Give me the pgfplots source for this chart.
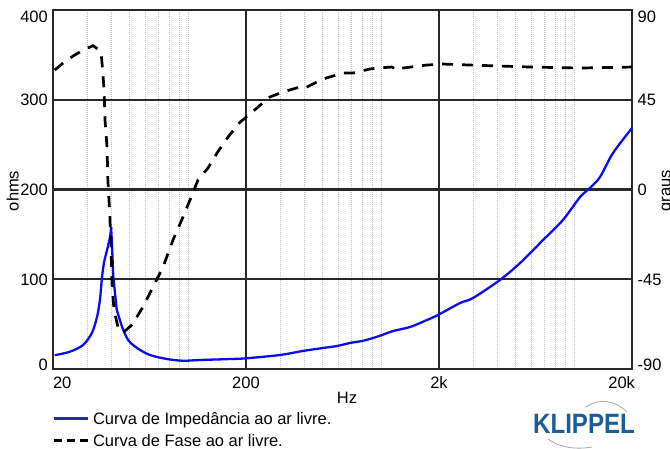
\documentclass[border=0pt]{standalone}
\usepackage{fontspec}
\setmainfont{Liberation Sans}
\usepackage{pgfplots}
\pgfplotsset{compat=1.18}
\definecolor{navyleg}{RGB}{40,40,150}
\definecolor{curveblue}{RGB}{10,10,245}
\definecolor{klippel}{RGB}{30,92,152}
\definecolor{gridmaj}{RGB}{40,40,40}
\newcommand{\yl}[2]{\raisebox{#1}[0pt][0pt]{#2}}
\pgfplotsset{
  solidleg/.style={legend image code/.code={\draw[##1] (0pt,6pt) -- (34pt,6pt);}},
  dashleg/.style={legend image code/.code={\draw[##1, dash pattern=on 8pt off 5pt] (0pt,6pt) -- (34pt,6pt);}},
}
\begin{document}
\fontsize{16.5}{19.8}\selectfont
\begin{tikzpicture}[font=\fontsize{16.5}{19.8}\selectfont]
\path[use as bounding box] (0pt,0pt) rectangle (670pt,448pt);
\begin{axis}[
  at={(53pt,79pt)}, anchor=south west,
  width=579pt, height=359pt, scale only axis,
  xmode=log, xmin=20, xmax=20000, ymin=0, ymax=400,
  xtick={20,200,2000,20000},
  xticklabels={\makebox[0pt][l]{20},200,2k,\makebox[0pt][r]{20k\kern-3pt}},
  minor xtick={30,40,50,60,70,80,90,100,300,400,500,600,700,800,900,1000,3000,4000,5000,6000,7000,8000,9000,10000},
  ytick={0,100,200,300,400},
  yticklabels={\yl{-1.35pt}{0},\yl{-5.85pt}{100},\yl{-5.85pt}{200},\yl{-5.85pt}{300},\yl{-12.85pt}{400}},
  major tick length=0pt, minor tick length=0pt,
  xmajorgrids, ymajorgrids, xminorgrids,
  grid style={line width=2.2pt, color=gridmaj},
  major grid style={line width=2.2pt, color=gridmaj},
  minor grid style={line width=0.8pt, color=gray!50, dash pattern=on 1pt off 1pt},
  axis line style={line width=2.6pt, color=gridmaj},
  xticklabel style={anchor=base, inner sep=0pt, yshift=-19pt},
  yticklabel style={anchor=east, inner sep=0pt, xshift=-5pt},
]
\addplot[curveblue, line width=2.3pt, forget plot, smooth, tension=0.5] coordinates {
(20.4,15.3)(24.5,19.3)(28.6,26.7)(31.8,40.1)(33.8,57.9)(35.0,76.9)(35.9,102.5)(36.8,119.2)(38.1,132.6)(39.5,147)(40.0,158)
};
\addplot[curveblue, line width=2.3pt, forget plot] coordinates {
(40.0,158)(40.4,140)(41.05,103)(42.8,65.7)(45.6,46.8)
};
\addplot[curveblue, line width=2.3pt, forget plot, smooth, tension=0.5] coordinates {
(45.6,46.8)(49.0,32.3)(54.5,23.4)(63.6,15.6)(78.0,11.1)(94.3,9.2)(115,10.0)(165,11.1)(200,11.9)(300,15.6)(394,20.1)(501,23.4)(592,25.6)(691,29.0)(798,31.2)(910,34.5)(1014,37.9)(1156,42.3)(1416,46.8)(1733,54.6)(1977,60.2)(2569,73.5)(3000,79.1)(4140,99.2)(5260,118.1)(6920,143.7)(8770,166)(10760,191.6)(12110,201.7)(13650,213.9)(15950,240.7)(20000,268.5)
};
\end{axis}
\begin{axis}[
  at={(53pt,79pt)}, anchor=south west,
  width=579pt, height=359pt, scale only axis,
  xmode=log, xmin=20, xmax=20000, ymin=-90, ymax=90,
  axis x line=none, axis y line*=right,
  y axis line style={draw=none},
  ytick={-90,-45,0,45,90},
  yticklabels={\yl{-1.35pt}{-90},\yl{-5.85pt}{-45},\yl{-5.85pt}{0},\yl{-5.85pt}{45},\yl{-12.85pt}{90}},
  major tick length=0pt,
  yticklabel style={anchor=west, inner sep=0pt, xshift=5.5pt},
  legend style={at={(axis description cs:0,0)}, anchor=north west, xshift=-1pt, yshift=-43pt,
    draw=none, fill=none, inner sep=0pt, row sep=6pt, column sep=4pt,
    nodes={inner sep=0pt, text height=12pt, text depth=4pt, anchor=base west}},
  legend cell align=left,
]
\addlegendimage{navyleg, line width=2.6pt, solidleg}
\addlegendentry{Curva de Impedância ao ar livre.}
\addlegendimage{black, line width=2.8pt, dashleg}
\addlegendentry{Curva de Fase ao ar livre.}
\addplot[black, line width=2.7pt, dash pattern=on 11pt off 9pt, forget plot] coordinates {
(20.4,59.9)(22.5,63.3)(25.4,66.9)(28.3,69.6)(32.2,72.1)(34.2,70.4)(35.5,68.4)(35.9,63.4)(36.8,49.9)(37.2,34.8)(38.1,21.3)(38.5,4.8)(39.0,-5.3)(39.3,-10.3)(40.0,-30.3)(40.4,-46.9)(41.4,-60.4)(43.4,-68.9)(46.1,-71.8)(51.3,-67.9)(58.5,-58.9)(65.9,-48.9)(74.3,-38.9)(83.7,-25.3)(94.3,-13.8)(102.5,-5.3)(112.8,4.8)(127.1,10.8)(141.5,18.3)(161.4,26.3)(186.2,33.8)(197.8,35.8)(228,40.9)(266,46.4)(311,48.9)(381,51.4)(404,50.9)(501,55.4)(637,58.4)(716,58.4)(877,60.4)(955,60.9)(1141,61.4)(1211,59.9)(1301,60.9)(1733,62.4)(2099,62.9)(2896,62.4)(5925,61.4)(10760,60.9)(20000,61.4)
};
\end{axis}
\node[rotate=90, anchor=base, inner sep=0pt] at (18.5pt,257pt) {ohms};
\node[rotate=90, anchor=base, inner sep=0pt] at (670.5pt,257pt) {graus};
\node[anchor=base, inner sep=0pt] at (347pt,45pt) {Hz};
\node[anchor=base west, inner sep=0pt, text=klippel, font=\fontsize{28}{28}\selectfont\bfseries] at (533pt,15pt) {\scalebox{0.86}[1]{KLIPPEL}};
\draw[gray!70, line width=0.8pt] (586pt,41pt) .. controls (598pt,50pt) and (615pt,48pt) .. (627pt,36pt);
\draw[gray!70, line width=0.8pt] (548pt,9pt) .. controls (558pt,1pt) and (575pt,-2pt) .. (592pt,1pt);
\end{tikzpicture}
\end{document}
